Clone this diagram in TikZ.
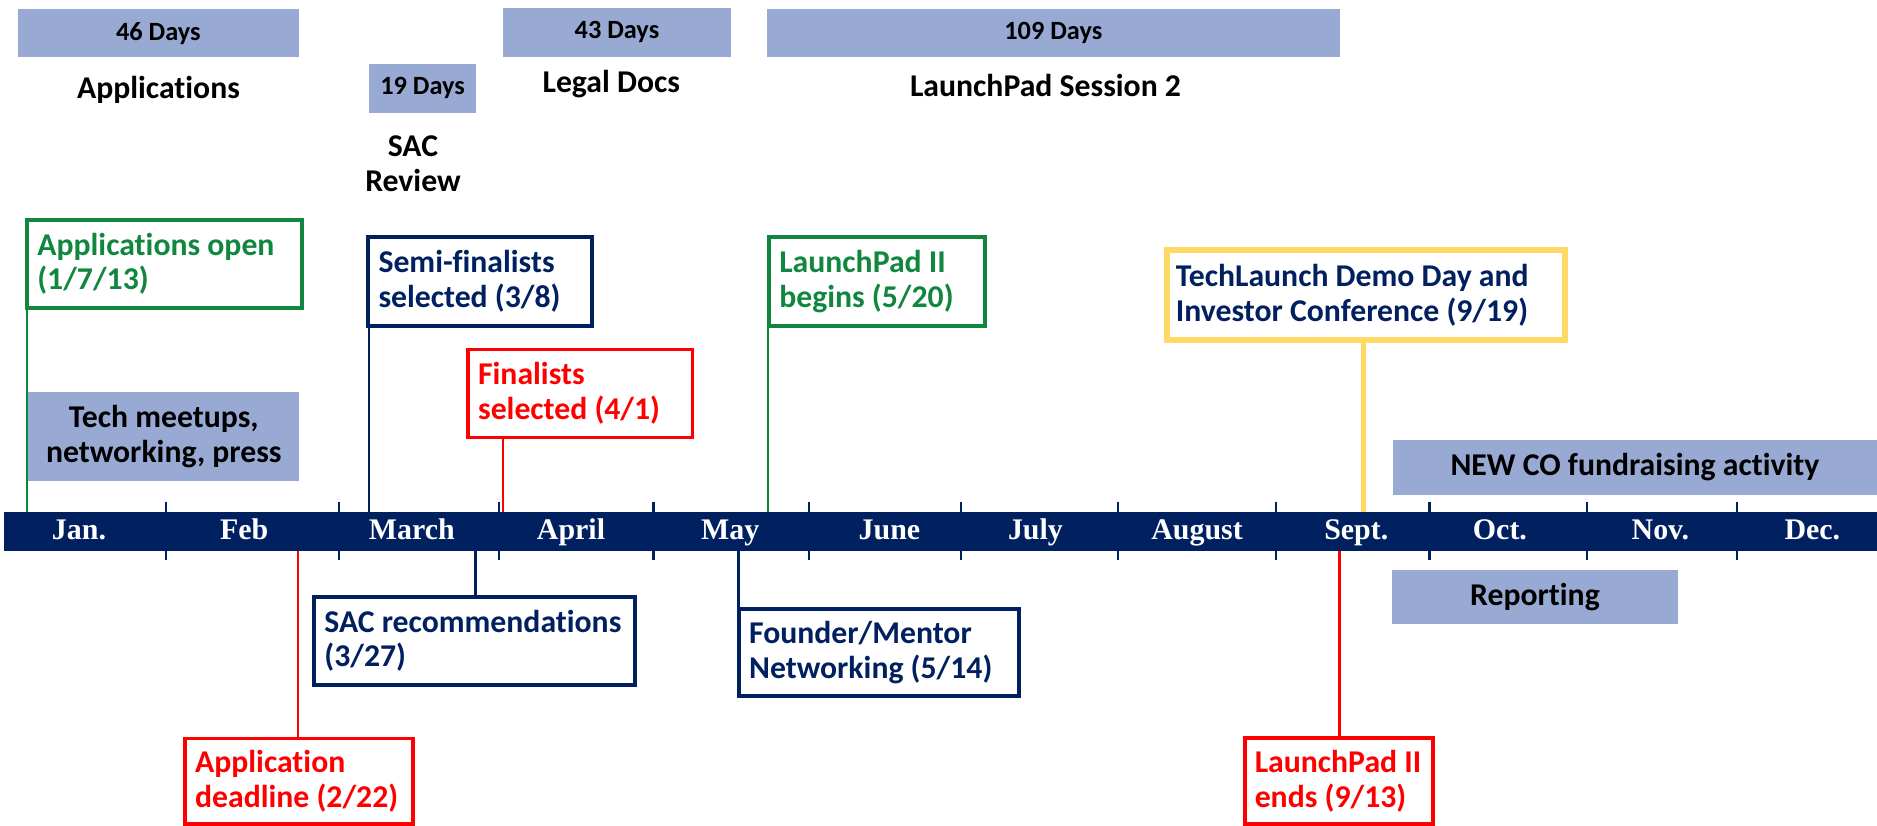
\documentclass[tikz,border=0pt]{standalone}
\usepackage{fontspec}
\setmainfont{Carlito}[Ligatures=NoCommon]
\newfontfamily\monthfont{Liberation Serif}
\definecolor{navy}{RGB}{0,32,96}
\definecolor{evgreen}{RGB}{16,134,62}
\definecolor{evred}{RGB}{255,0,0}
\definecolor{evyellow}{RGB}{255,217,102}
\definecolor{slate}{RGB}{152,169,211}
% keep each printed line of a milestone box on one line
\newcommand{\oneline}[1]{\mbox{#1}}

\begin{document}
\begin{tikzpicture}[x=1pt,y=-1pt,
  big/.style={font=\fontsize{26.5}{29}\selectfont\bfseries},
  small/.style={font=\fontsize{22}{26}\selectfont\bfseries},
  span/.style={fill=slate, inner sep=0pt, align=center, text=black},
  evbox/.style={draw=#1, text=#1, line width=3.2pt, fill=white, inner sep=0pt, align=flush left, big},
  link/.style={draw=#1, line width=2pt},
  tick/.style={draw=navy, line width=2pt},
  month/.style={text=white, font=\monthfont\fontsize{25}{25}\selectfont\bfseries, anchor=base},
  title/.style={big, align=center, text=black, inner sep=0pt}
]
\useasboundingbox (0,0) rectangle (1568,690);

% ---- dates on the time line ----
\coordinate (jan7)  at (22.8,444);
\coordinate (feb22) at (249,444);
\coordinate (mar8)  at (308,444);
\coordinate (mar27) at (397.2,444);
\coordinate (apr1)  at (420.3,444);
\coordinate (may14) at (617,444);
\coordinate (may20) at (641.5,444);
\coordinate (sep13) at (1119,444);
\coordinate (sep19) at (1139,444);

% ---- milestone boxes ----
\node[evbox=evgreen, minimum width=229.4pt, minimum height=73.1pt, text width=212.4pt]
  (appopen) at (137.4,220.45) {\oneline{Applications open}\\\oneline{(1/7/13)}};
\node[evbox=navy, minimum width=186.5pt, minimum height=73.9pt, text width=169.5pt]
  (semi) at (400.95,235.05) {\oneline{Semi-finalists}\\\oneline{selected (3/8)}};
\node[evbox=evred, minimum width=187.6pt, minimum height=73.6pt, text width=170.6pt]
  (finals) at (484.7,328.7) {\oneline{Finalists}\\\oneline{selected (4/1)}};
\node[evbox=evgreen, minimum width=180pt, minimum height=73.9pt, text width=163pt]
  (lpbegin) at (732.5,235.05) {\oneline{LaunchPad II}\\\oneline{begins (5/20)}};
\node[evbox=navy, draw=evyellow, line width=5pt, minimum width=333pt, minimum height=74.7pt, text width=317.4pt]
  (demo) at (1141,246.45) {\oneline{TechLaunch Demo Day and}\\\oneline{Investor Conference (9/19)}};
\node[evbox=navy, minimum width=268pt, minimum height=73.7pt, text width=251pt]
  (sacrec) at (396.5,535.35) {\oneline{SAC recommendations}\\\oneline{(3/27)}};
\node[evbox=navy, minimum width=234pt, minimum height=72.6pt, text width=217pt]
  (founder) at (734.3,545.2) {\oneline{Founder/Mentor}\\\oneline{Networking (5/14)}};
\node[evbox=evred, minimum width=190.8pt, minimum height=71.6pt, text width=173.8pt]
  (appdead) at (249.9,652.7) {\oneline{Application}\\\oneline{deadline (2/22)}};
\node[evbox=evred, minimum width=157.6pt, minimum height=72.1pt, text width=140.6pt]
  (lpend) at (1118.5,652.45) {\oneline{LaunchPad II}\\\oneline{ends (9/13)}};

% ---- stems from each milestone to the time line ----
\path[link=evgreen] (appopen.south -| jan7) -- (jan7);
\path[link=navy]    (semi.south -| mar8) -- (mar8);
\path[link=evred]   (finals.south -| apr1) -- (apr1);
\path[link=evgreen] (lpbegin.south -| may20) -- (may20);
\path[link=evyellow, line width=4.5pt] (demo.south -| sep19) -- (sep19);
\path[link=evred]   (appdead.north -| feb22) -- (feb22);
\path[link=navy]    (sacrec.north -| mar27) -- (mar27);
\path[link=navy]    (founder.north -| may14) -- (may14);
\path[link=evred]   (lpend.north -| sep13) -- (sep13);

% ---- the time line bar with month ticks ----
\foreach \x in {138.5,283,417,546,676,803,934,1066,1194,1325.5,1451}
  \draw[tick] (\x,419.5) -- (\x,467.5);
\node[fill=navy, inner sep=0pt, minimum width=1564.7pt, minimum height=32.5pt]
  (bar) at (785.65,443.75) {};
\foreach \m/\x in {Jan./66, Feb/204, March/344, April/477, May/610, June/743,
                   July/865, August/1000, Sept./1133, Oct./1253, Nov./1387, Dec./1514}
  \node[month] at (\x,450.5) {\m};

% ---- activity spans ----
\node[span, small, minimum width=234.5pt, minimum height=40.5pt] (d46)  at (132.25,27.75) {46 Days};
\node[span, small, minimum width=89.2pt,  minimum height=40.5pt] (d19)  at (353,73.75) {19 Days};
\node[span, small, minimum width=190.4pt, minimum height=40.6pt] (d43)  at (515.4,27) {43 Days};
\node[span, small, minimum width=478.2pt, minimum height=40.5pt] (d109) at (879.9,27.75) {109 Days};
\node[span, big, minimum width=226.3pt, minimum height=74.3pt] (tech) at (136.85,364.85)
  {Tech meetups,\\networking, press};
\node[span, big, minimum width=404.4pt, minimum height=45.7pt] (newco) at (1365.8,390.45)
  {NEW CO fundraising activity};
\node[span, big, minimum width=238.9pt, minimum height=44.8pt] (report) at (1282.25,498.6)
  {Reporting};

% ---- phase titles ----
\node[title] (tapp)   at (132.4,75.2) {Applications};
\node[title] (tsac)   at (345,136.5)  {SAC\\Review};
\node[title] (tlegal) at (510.7,70.5) {Legal Docs};
\node[title] (tlp)    at (873.4,71)   {LaunchPad Session 2};
\end{tikzpicture}
\end{document}
